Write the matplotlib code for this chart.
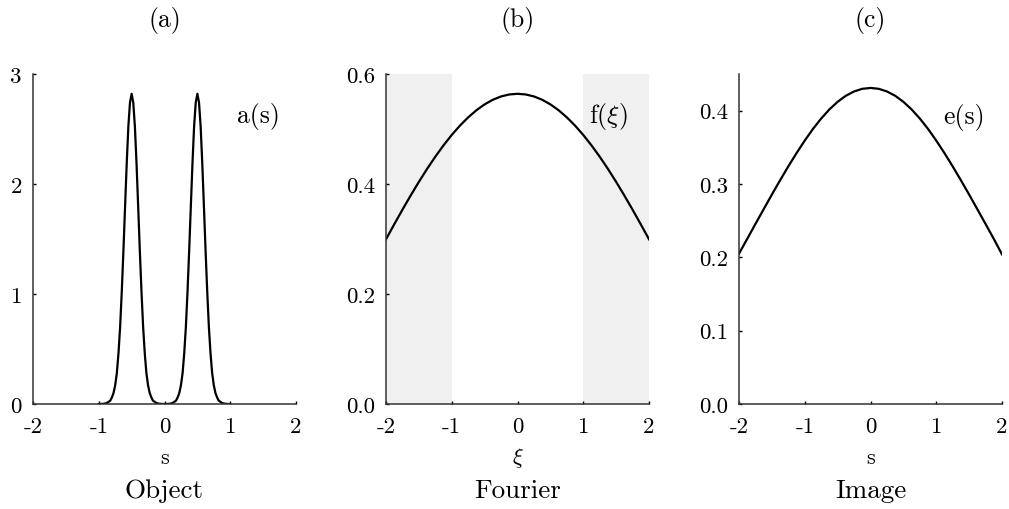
import numpy as np
import matplotlib
matplotlib.use("Agg")
import matplotlib.pyplot as plt

plt.rcParams['font.family'] = 'cmr10'
plt.rcParams['mathtext.fontset'] = 'cm'
plt.rcParams['axes.unicode_minus'] = False
plt.rcParams['axes.formatter.use_mathtext'] = True

# (a) object a(s): two narrow peaks, sampled every 0.025 on [-1, 1]
s_obj = np.linspace(-1, 1, 81)
a_vals = [0, 0, 0.001, 0.002, 0.005, 0.01, 0.02, 0.03, 0.06, 0.10,
          0.17, 0.28, 0.46, 0.70, 1.02, 1.39, 1.79, 2.18, 2.52, 2.74,
          2.82, 2.74, 2.52, 2.18, 1.79, 1.39, 1.02, 0.70, 0.46, 0.28,
          0.17, 0.10, 0.06, 0.03, 0.02, 0.01, 0.005, 0.002, 0.001, 0,
          0,
          0, 0.001, 0.002, 0.005, 0.01, 0.02, 0.03, 0.06, 0.10,
          0.17, 0.28, 0.46, 0.70, 1.02, 1.39, 1.79, 2.18, 2.52, 2.74,
          2.82, 2.74, 2.52, 2.18, 1.79, 1.39, 1.02, 0.70, 0.46, 0.28,
          0.17, 0.10, 0.06, 0.03, 0.02, 0.01, 0.005, 0.002, 0.001, 0, 0]

# (b) Fourier f(xi), sampled every 0.125 on [-2, 2]
xi = np.linspace(-2, 2, 33)
f_vals = [0.2995, 0.3267, 0.3533, 0.3791, 0.4039, 0.4275, 0.4497, 0.4703,
          0.4892, 0.5062, 0.5212, 0.5341, 0.5448, 0.5532, 0.5592, 0.5628,
          0.5640,
          0.5628, 0.5592, 0.5532, 0.5448, 0.5341, 0.5212, 0.5062, 0.4892,
          0.4703, 0.4497, 0.4275, 0.4039, 0.3791, 0.3533, 0.3267, 0.2995]

# (c) image e(s), sampled every 0.125 on [-2, 2]
s_img = np.linspace(-2, 2, 33)
e_vals = [0.2050, 0.2252, 0.2455, 0.2656, 0.2856, 0.3051, 0.3240, 0.3421,
          0.3592, 0.3751, 0.3893, 0.4017, 0.4121, 0.4203, 0.4262, 0.4298,
          0.4310,
          0.4298, 0.4262, 0.4203, 0.4121, 0.4017, 0.3893, 0.3751, 0.3592,
          0.3421, 0.3240, 0.3051, 0.2856, 0.2656, 0.2455, 0.2252, 0.2040]

shade_bands = [(-2, -1), (1, 2)]

x_ticks = [-2, -1, 0, 1, 2]
x_ticklabels = ['-2', '-1', '0', '1', '2']
yticks_a = [0, 1, 2, 3]
yticks_b = [0.0, 0.2, 0.4, 0.6]
yticks_c = [0.0, 0.1, 0.2, 0.3, 0.4]

fig = plt.figure(figsize=(10.09, 5.10), dpi=100)
W, H = 1009, 510
lefts = [33, 386, 739]
axw = 263
bottom = 405
top = 75
axes = [fig.add_axes([l / W, (H - bottom) / H, axw / W, (bottom - top) / H]) for l in lefts]

line_kw = dict(color='black', lw=1.6)
axes[0].plot(s_obj, a_vals, **line_kw)
axes[1].plot(xi, f_vals, **line_kw)
axes[2].plot(s_img, e_vals, **line_kw)

for lo, hi in shade_bands:
    axes[1].axvspan(lo, hi, color='#f0f0f0', lw=0, zorder=0)

axes[0].set_ylim(0, 3)
axes[1].set_ylim(0, 0.6)
axes[2].set_ylim(0, 0.45)
axes[0].set_yticks(yticks_a)
axes[0].set_yticklabels([str(v) for v in yticks_a])
axes[1].set_yticks(yticks_b)
axes[1].set_yticklabels(['%.1f' % v for v in yticks_b])
axes[2].set_yticks(yticks_c)
axes[2].set_yticklabels(['%.1f' % v for v in yticks_c])

titles = ['(a)', '(b)', '(c)']
xlabels = ['s', r'$\xi$', 's']
names = ['Object', 'Fourier', 'Image']
curve_labels = ['a(s)', r'f$(\xi)$', 'e(s)']
curve_pos = [(0.856, 0.873), (0.845, 0.873), (0.854, 0.87)]

for i, ax in enumerate(axes):
    ax.set_xlim(-2, 2)
    ax.set_xticks(x_ticks)
    ax.set_xticklabels(x_ticklabels)
    for sp in ['top', 'right']:
        ax.spines[sp].set_visible(False)
    for sp in ['left', 'bottom']:
        ax.spines[sp].set_linewidth(1.1)
        ax.spines[sp].set_color('#333333')
    ax.tick_params(direction='in', length=2.5, width=1, labelsize=16.5, pad=8, colors='black')
    ax.tick_params(axis='x', pad=9)
    ax.text(0.5, -0.16, xlabels[i], transform=ax.transAxes, ha='center', va='center', fontsize=16)
    ax.text(0.5, -0.26, names[i], transform=ax.transAxes, ha='center', va='center', fontsize=19.5)
    ax.text(0.5, 1.165, titles[i], transform=ax.transAxes, ha='center', va='center', fontsize=18.5)
    ax.text(curve_pos[i][0], curve_pos[i][1], curve_labels[i], transform=ax.transAxes,
            ha='center', va='center', fontsize=18.5)

fig.savefig('out.png', dpi=100)
